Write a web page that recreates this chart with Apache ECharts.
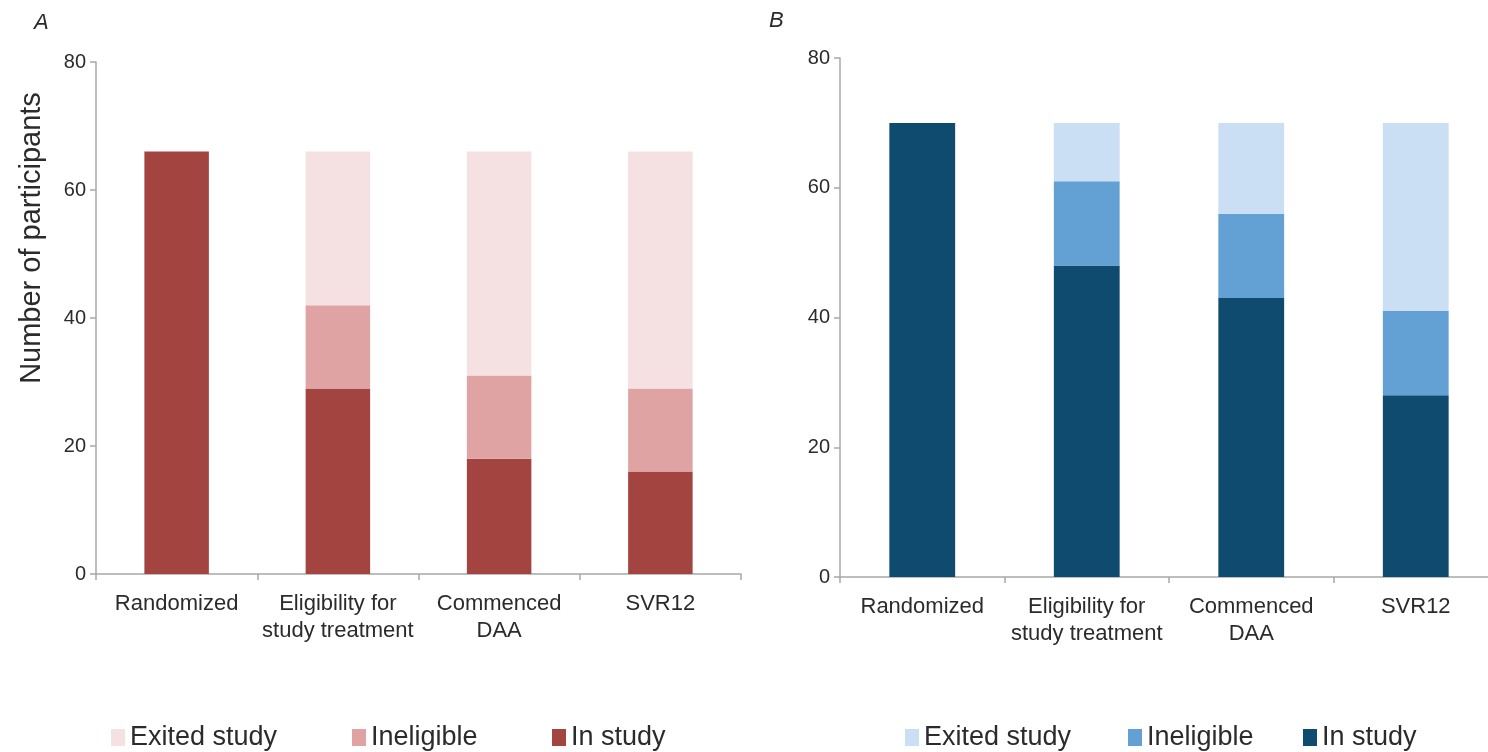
<!DOCTYPE html>
<html>
<head>
<meta charset="utf-8">
<script src="https://cdn.jsdelivr.net/npm/echarts@6/dist/echarts.min.js"></script>
<style>
html,body{margin:0;padding:0;background:#fff;}
#c{width:1488px;height:752px;}
</style>
</head>
<body>
<div id="c"></div>
<script>
const categories = ['Randomized', 'Eligibility for\nstudy treatment', 'Commenced\nDAA', 'SVR12'];
const seriesNames = ['In study', 'Ineligible', 'Exited study'];
const yTicks = {min: 0, max: 80, interval: 20};

// Panel A
const aInStudy  = [66, 29, 18, 16];
const aIneligible = [0, 13, 13, 13];
const aExited   = [0, 24, 35, 37];
// Panel B
const bInStudy  = [70, 48, 43, 28];
const bIneligible = [0, 13, 13, 13];
const bExited   = [0, 9, 14, 29];

const redColors  = ['#A44441', '#DFA3A3', '#F5E1E2'];
const blueColors = ['#0F4A6F', '#63A1D5', '#CADFF3'];

const font = 'Liberation Sans, Arial, Helvetica, sans-serif';
const axisColor = '#A8A8A8';
const textColor = '#2b2b2b';

function xAxisCfg(gi) {
  return {
    type: 'category', gridIndex: gi, data: categories,
    axisLine: {show: true, lineStyle: {color: axisColor, width: 1.5}},
    axisTick: {show: true, length: 6, lineStyle: {color: axisColor, width: 1.5}},
    axisLabel: {interval: 0, fontFamily: font, fontSize: 22, color: textColor, lineHeight: 27, margin: 16}
  };
}
function yAxisCfg(gi) {
  return {
    type: 'value', gridIndex: gi, min: yTicks.min, max: yTicks.max, interval: yTicks.interval,
    splitLine: {show: false},
    axisLine: {show: true, lineStyle: {color: axisColor, width: 1.5}},
    axisTick: {show: true, length: 6, lineStyle: {color: axisColor, width: 1.5}},
    axisLabel: {fontFamily: font, fontSize: 20, color: textColor, margin: 10}
  };
}
function bars(gi, stack, vals, colors) {
  return vals.map((v, i) => ({
    type: 'bar', name: seriesNames[i], xAxisIndex: gi, yAxisIndex: gi, stack: stack,
    data: v, barWidth: '40%', itemStyle: {color: colors[i]}, emphasis: {disabled: true}
  }));
}
function legendItem(name, color, left) {
  return {
    left: left, top: 719, icon: 'rect', itemWidth: 14, itemHeight: 17,
    selectedMode: false,
    data: [{name: name, itemStyle: {color: color}}],
    textStyle: {fontFamily: font, fontSize: 27, color: textColor}
  };
}

const chart = echarts.init(document.getElementById('c'), null, {renderer: 'canvas'});
chart.setOption({
  animation: false,
  backgroundColor: '#fff',
  grid: [
    {left: 96, width: 645, top: 62, height: 512, outerBoundsMode: 'none', containLabel: false},
    {left: 840, width: 658, top: 58, height: 519, outerBoundsMode: 'none', containLabel: false}
  ],
  xAxis: [xAxisCfg(0), xAxisCfg(1)],
  yAxis: [yAxisCfg(0), yAxisCfg(1)],
  legend: [
    legendItem('Exited study', redColors[2], 106),
    legendItem('Ineligible', redColors[1], 347),
    legendItem('In study', redColors[0], 547),
    legendItem('Exited study', blueColors[2], 900),
    legendItem('Ineligible', blueColors[1], 1123),
    legendItem('In study', blueColors[0], 1298)
  ],
  graphic: [
    {type: 'text', left: 34, top: 12, style: {text: 'A', font: 'italic 22px ' + font, fill: textColor}},
    {type: 'text', left: 769, top: 10, style: {text: 'B', font: 'italic 22px ' + font, fill: textColor}},
    {type: 'text', x: 32, y: 238, rotation: Math.PI / 2,
     style: {text: 'Number of participants', font: '29px ' + font, fill: textColor, align: 'center', verticalAlign: 'middle'}}
  ],
  series: [
    ...bars(0, 'a', [aInStudy, aIneligible, aExited], redColors),
    ...bars(1, 'b', [bInStudy, bIneligible, bExited], blueColors)
  ]
});
</script>
</body>
</html>
